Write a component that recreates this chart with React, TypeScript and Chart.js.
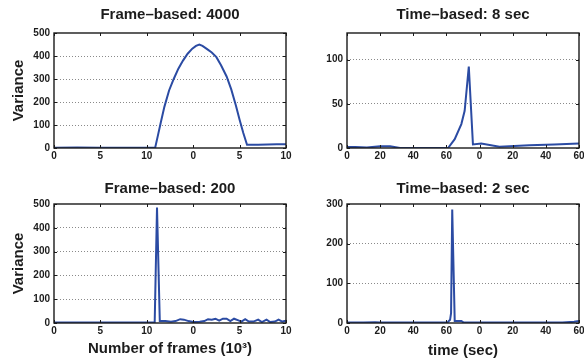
import React, { useEffect, useRef } from "react";
import { Chart, registerables } from "chart.js";

Chart.register(...registerables);

// Axis ticks (frame axis is in thousands of frames, labels wrap per clip)
const frameTickValues = [0, 5, 10, 15, 20, 25];
const frameTickLabels = ["0", "5", "10", "0", "5", "10"];
const timeTickValues = [0, 20, 40, 60, 80, 100, 120, 140];
const timeTickLabels = ["0", "20", "40", "60", "0", "20", "40", "60"];

const frameVarianceTicks = [0, 100, 200, 300, 400, 500];
const time8VarianceTicks = [0, 50, 100];
const time2VarianceTicks = [0, 100, 200, 300];

// Frame-based, window 4000
const frame4000X = [0, 2.5, 5, 8, 10.9, 11.2, 11.5, 11.9, 12.4, 12.9, 13.4, 13.9, 14.4, 14.9, 15.3, 15.66, 16.0, 16.5, 17.0, 17.5, 18.0, 18.6, 19.1, 19.6, 20.0, 20.4, 20.8, 22, 23, 24, 25];
const frame4000Y = [1, 2, 1, 1, 1, 55, 110, 180, 250, 300, 345, 380, 410, 432, 444, 450, 444, 430, 415, 395, 360, 311, 255, 185, 123, 65, 14, 14, 15, 16, 16];

// Time-based, window 8 sec
const time8X = [0, 5, 12, 20, 26, 32, 45, 61, 65, 69, 71, 73.5, 76, 81, 92, 110, 125, 140];
const time8Y = [1, 1, 0.5, 2, 2, 0, 0, 0, 10, 27, 42, 92, 4, 5, 1.5, 3, 4, 5];

// Frame-based, window 200
const frame200X = [0, 5, 10.85, 11.1, 11.4, 12.0, 12.6, 13.1, 13.6, 14.0, 14.5, 15.0, 15.7, 16.2, 16.6, 17.0, 17.4, 17.8, 18.2, 18.6, 19.0, 19.4, 19.8, 20.2, 20.6, 21.0, 21.5, 22.0, 22.4, 22.9, 23.3, 23.8, 24.2, 24.6, 25];
const frame200Y = [2, 2, 2, 485, 8, 8, 5, 8, 16, 14, 8, 4, 5, 8, 16, 14, 18, 10, 18, 18, 8, 18, 12, 6, 16, 6, 6, 14, 4, 14, 4, 6, 14, 6, 10];

// Time-based, window 2 sec
const time2X = [0, 10, 17, 20, 40, 58, 60.5, 62.2, 62.8, 63.5, 65.0, 69, 70.5, 100, 130, 137, 140];
const time2Y = [1, 1, 2, 1, 1, 1, 1, 8, 25, 286, 5, 5, 1, 1, 1, 3, 5];

const FONT = "'Liberation Sans', Arial, Helvetica, sans-serif";
const LINE_COLOR = "#2b4ba3";
const TEXT_COLOR = "#1c1c1c";

type PanelSpec = {
  title: string;
  xs: number[];
  ys: number[];
  xTicks: number[];
  xLabels: string[];
  yTicks: number[];
  yMax: number;
  yTitle?: string;
  xTitle?: string;
  left: number;
  top: number;
  yAxisWidth: number;
  xAxisHeight: number;
  rightPad: number;
  titlePadTop: number;
  titlePadBottom: number;
  xTitlePadBottom: number;
};

// Box outline with short inward tick marks on all four sides
const framePlugin = {
  id: "boxFrame",
  afterDraw(chart: any) {
    const { ctx, chartArea: a, scales } = chart;
    ctx.save();
    ctx.strokeStyle = "#1a1a1a";
    ctx.lineWidth = 1.4;
    ctx.strokeRect(a.left, a.top, a.right - a.left, a.bottom - a.top);
    ctx.lineWidth = 1;
    ctx.beginPath();
    for (const t of scales.x.ticks) {
      const px = Math.round(scales.x.getPixelForValue(t.value)) + 0.5;
      ctx.moveTo(px, a.bottom);
      ctx.lineTo(px, a.bottom - 3);
      ctx.moveTo(px, a.top);
      ctx.lineTo(px, a.top + 3);
    }
    for (const t of scales.y.ticks) {
      const py = Math.round(scales.y.getPixelForValue(t.value)) + 0.5;
      ctx.moveTo(a.left, py);
      ctx.lineTo(a.left + 3, py);
      ctx.moveTo(a.right, py);
      ctx.lineTo(a.right - 3, py);
    }
    ctx.stroke();
    ctx.restore();
  },
};

function Panel({ spec }: { spec: PanelSpec }) {
  const ref = useRef<HTMLCanvasElement | null>(null);

  useEffect(() => {
    if (!ref.current) return;
    const s = spec;
    const xMax = s.xTicks[s.xTicks.length - 1];
    const tickFont = { family: FONT, size: 10, weight: "bold" as const };
    const chart = new Chart(ref.current, {
      type: "line",
      data: {
        datasets: [
          {
            data: s.xs.map((x, i) => ({ x, y: s.ys[i] })),
            borderColor: LINE_COLOR,
            borderWidth: 2,
            pointRadius: 0,
            tension: 0,
            fill: false,
          },
        ],
      },
      options: {
        animation: false,
        responsive: false,
        maintainAspectRatio: false,
        layout: { padding: { left: 0, right: s.rightPad, top: 0, bottom: 0 } },
        plugins: {
          legend: { display: false },
          tooltip: { enabled: false },
          title: {
            display: true,
            text: s.title,
            color: TEXT_COLOR,
            fullSize: false,
            font: { family: FONT, size: 15, weight: "bold" },
            padding: { top: s.titlePadTop, bottom: s.titlePadBottom },
          },
        },
        scales: {
          x: {
            type: "linear",
            min: 0,
            max: xMax,
            afterBuildTicks: (axis: any) => {
              axis.ticks = s.xTicks.map((v) => ({ value: v }));
            },
            afterFit: (axis: any) => {
              axis.height = s.xAxisHeight;
              axis.paddingLeft = 0;
              axis.paddingRight = 0;
            },
            ticks: {
              autoSkip: false,
              maxRotation: 0,
              padding: 2,
              color: TEXT_COLOR,
              font: tickFont,
              callback: (_v: any, i: number) => s.xLabels[i],
            },
            grid: { display: false, drawTicks: false },
            border: { display: false },
            title: {
              display: !!s.xTitle,
              text: s.xTitle || "",
              color: TEXT_COLOR,
              font: { family: FONT, size: 15, weight: "bold" },
              padding: { top: 0, bottom: s.xTitlePadBottom },
            },
          },
          y: {
            type: "linear",
            min: 0,
            max: s.yMax,
            afterBuildTicks: (axis: any) => {
              axis.ticks = s.yTicks.map((v) => ({ value: v }));
            },
            afterFit: (axis: any) => {
              axis.width = s.yAxisWidth;
              axis.paddingTop = 0;
              axis.paddingBottom = 0;
            },
            ticks: {
              padding: 4,
              color: TEXT_COLOR,
              font: tickFont,
            },
            grid: {
              drawTicks: false,
              lineWidth: 1,
              color: (ctx: any) =>
                ctx.tick && (ctx.tick.value === 0 || ctx.tick.value === s.yMax)
                  ? "rgba(0,0,0,0)"
                  : "#8a8a8a",
            },
            border: { display: false, dash: [1, 2] },
            title: {
              display: !!s.yTitle,
              text: s.yTitle || "",
              color: TEXT_COLOR,
              font: { family: FONT, size: 15, weight: "bold" },
              padding: { top: 10, bottom: 0 },
            },
          },
        },
      },
      plugins: [framePlugin],
    } as any);
    return () => chart.destroy();
  }, [spec]);

  return (
    <canvas
      ref={ref}
      width={292}
      height={180}
      style={{ position: "absolute", left: spec.left, top: spec.top, width: 292, height: 180 }}
    />
  );
}

const panels: PanelSpec[] = [
  {
    title: "Frame\u2013based: 4000",
    xs: frame4000X,
    ys: frame4000Y,
    xTicks: frameTickValues,
    xLabels: frameTickLabels,
    yTicks: frameVarianceTicks,
    yMax: 500,
    yTitle: "Variance",
    left: 0,
    top: 0,
    yAxisWidth: 54,
    xAxisHeight: 32,
    rightPad: 6,
    titlePadTop: 6,
    titlePadBottom: 9,
    xTitlePadBottom: 0,
  },
  {
    title: "Time\u2013based: 8 sec",
    xs: time8X,
    ys: time8Y,
    xTicks: timeTickValues,
    xLabels: timeTickLabels,
    yTicks: time8VarianceTicks,
    yMax: 130,
    left: 292,
    top: 0,
    yAxisWidth: 55,
    xAxisHeight: 32,
    rightPad: 5,
    titlePadTop: 6,
    titlePadBottom: 9,
    xTitlePadBottom: 0,
  },
  {
    title: "Frame\u2013based: 200",
    xs: frame200X,
    ys: frame200Y,
    xTicks: frameTickValues,
    xLabels: frameTickLabels,
    yTicks: frameVarianceTicks,
    yMax: 500,
    yTitle: "Variance",
    xTitle: "Number of frames (10\u00B3)",
    left: 0,
    top: 180,
    yAxisWidth: 54,
    xAxisHeight: 37,
    rightPad: 6,
    titlePadTop: 0,
    titlePadBottom: 6,
    xTitlePadBottom: 2,
  },
  {
    title: "Time\u2013based: 2 sec",
    xs: time2X,
    ys: time2Y,
    xTicks: timeTickValues,
    xLabels: timeTickLabels,
    yTicks: time2VarianceTicks,
    yMax: 300,
    xTitle: "time (sec)",
    left: 292,
    top: 180,
    yAxisWidth: 55,
    xAxisHeight: 37,
    rightPad: 5,
    titlePadTop: 0,
    titlePadBottom: 6,
    xTitlePadBottom: 0,
  },
];

export default function App() {
  return (
    <div
      style={{
        position: "fixed",
        left: 0,
        top: 0,
        width: 584,
        height: 360,
        background: "#ffffff",
        overflow: "hidden",
      }}
    >
      {panels.map((p) => (
        <Panel key={p.title} spec={p} />
      ))}
    </div>
  );
}
